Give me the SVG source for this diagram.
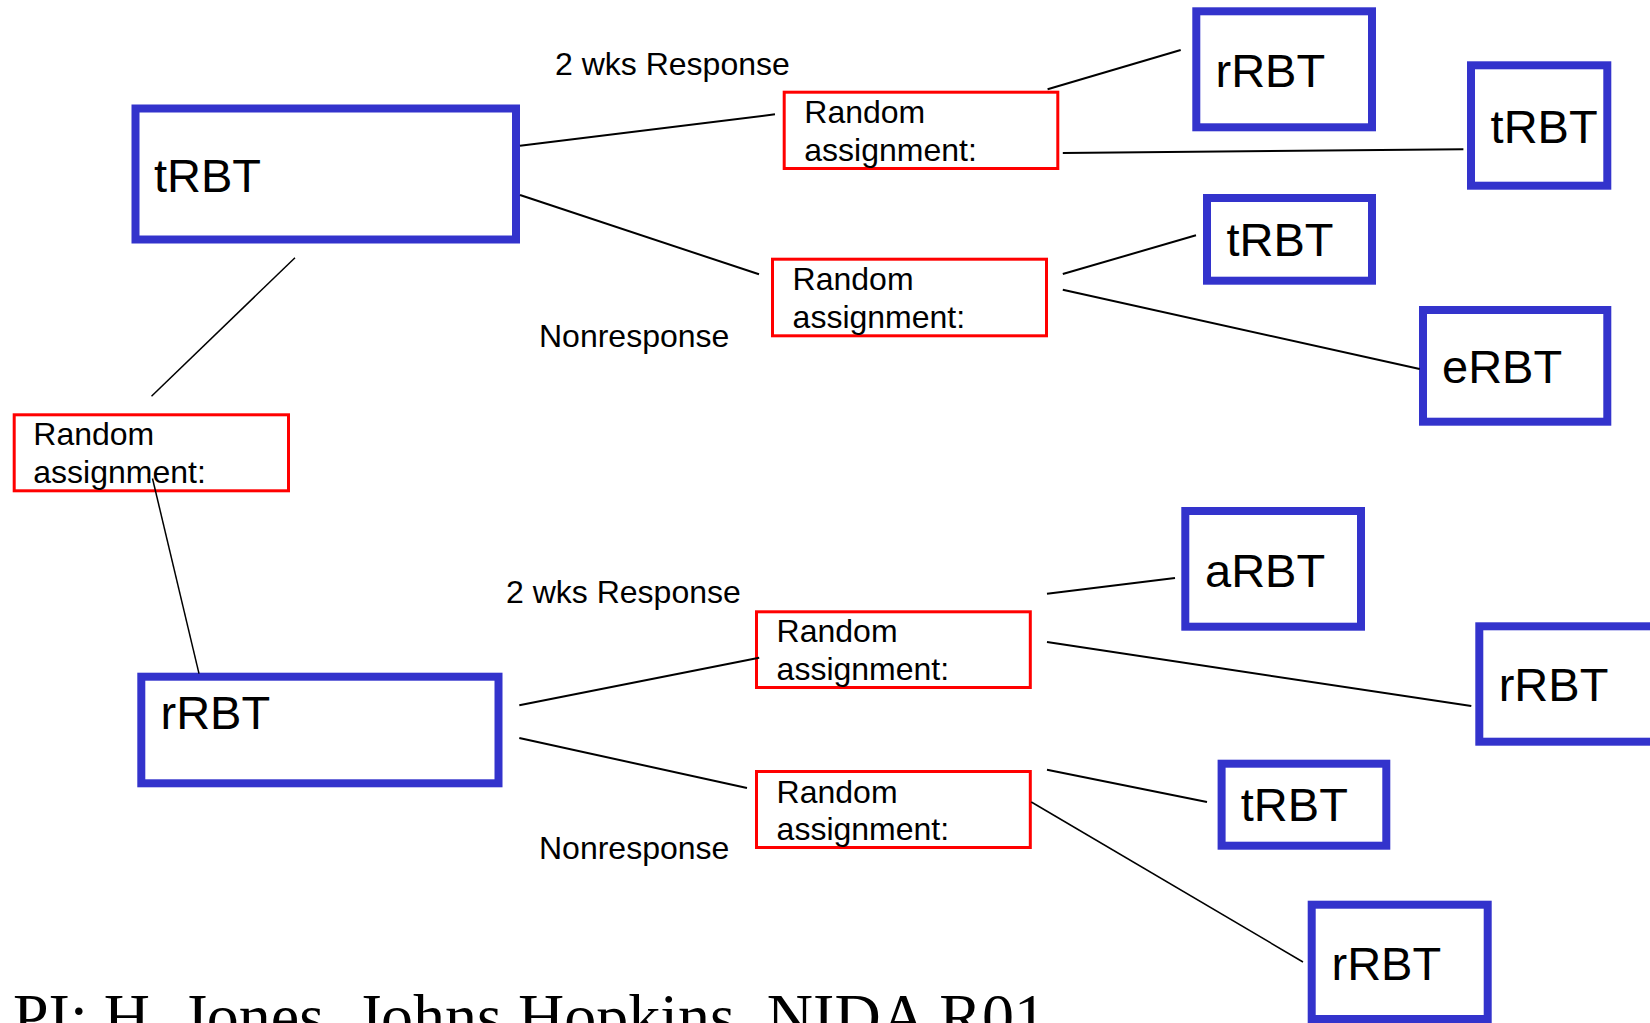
<svg xmlns="http://www.w3.org/2000/svg" width="1650" height="1023" viewBox="0 0 1650 1023">
  <style>
    .arm { fill: #ffffff; stroke: #3333cc; stroke-width: 8; }
    .arm-label { font-family: "Liberation Sans", Arial, sans-serif; font-size: 47px; fill: #000000; }
    .rand { fill: #ffffff; stroke: #ff0000; stroke-width: 3; }
    .rand-label { font-family: "Liberation Sans", Arial, sans-serif; font-size: 32px; fill: #000000; }
    .edge { stroke: #000000; stroke-width: 2; fill: none; }
    .edge-thin { stroke: #000000; stroke-width: 1.5; fill: none; }
    .note { font-family: "Liberation Sans", Arial, sans-serif; font-size: 32px; fill: #000000; }
    .credit { font-family: "Liberation Serif", "Times New Roman", serif; font-size: 64px; fill: #000000; }
  </style>
  <rect width="1650" height="1023" fill="#ffffff"/>

  <!-- first-stage treatment arms -->
  <g id="arm-trbt-main">
    <rect class="arm" x="135.5" y="108.5" width="380.5" height="131"/>
    <text class="arm-label" x="154" y="192">tRBT</text>
  </g>
  <g id="arm-rrbt-main">
    <rect class="arm" x="141.3" y="676.7" width="357.2" height="106.6"/>
    <text class="arm-label" x="160.5" y="729">rRBT</text>
  </g>

  <!-- randomisation points -->
  <g id="rand-initial">
    <rect class="rand" x="14.2" y="414.8" width="274.3" height="76"/>
    <text class="rand-label" x="33.3" y="445">Random</text>
    <text class="rand-label" x="33.3" y="482.7">assignment:</text>
  </g>
  <g id="rand-trbt-response">
    <rect class="rand" x="784.2" y="92.2" width="273.6" height="76.3"/>
    <text class="rand-label" x="804.3" y="123.3">Random</text>
    <text class="rand-label" x="804.3" y="160.7">assignment:</text>
  </g>
  <g id="rand-trbt-nonresponse">
    <rect class="rand" x="772.5" y="259.2" width="274" height="76.6"/>
    <text class="rand-label" x="792.6" y="290.3">Random</text>
    <text class="rand-label" x="792.6" y="327.7">assignment:</text>
  </g>
  <g id="rand-rrbt-response">
    <rect class="rand" x="756.5" y="611.8" width="273.8" height="75.7"/>
    <text class="rand-label" x="776.6" y="642">Random</text>
    <text class="rand-label" x="776.6" y="679.5">assignment:</text>
  </g>
  <g id="rand-rrbt-nonresponse">
    <rect class="rand" x="756.5" y="771.5" width="273.8" height="76"/>
    <text class="rand-label" x="776.6" y="802.6">Random</text>
    <text class="rand-label" x="776.6" y="840">assignment:</text>
  </g>

  <!-- second-stage treatment arms -->
  <g id="arm-rrbt-1">
    <rect class="arm" x="1196.3" y="11.3" width="175.7" height="116"/>
    <text class="arm-label" x="1215.5" y="86.7">rRBT</text>
  </g>
  <g id="arm-trbt-1">
    <rect class="arm" x="1471" y="65.3" width="136.3" height="120.4"/>
    <text class="arm-label" x="1490.6" y="142.7">tRBT</text>
  </g>
  <g id="arm-trbt-2">
    <rect class="arm" x="1207" y="198" width="165" height="82.7"/>
    <text class="arm-label" x="1226.5" y="256">tRBT</text>
  </g>
  <g id="arm-erbt">
    <rect class="arm" x="1423" y="310" width="184.3" height="111.7"/>
    <text class="arm-label" x="1442" y="383.3">eRBT</text>
  </g>
  <g id="arm-arbt">
    <rect class="arm" x="1185.3" y="511" width="175.7" height="115.7"/>
    <text class="arm-label" x="1205" y="587">aRBT</text>
  </g>
  <g id="arm-rrbt-2">
    <rect class="arm" x="1479.3" y="626.3" width="250" height="115.4"/>
    <text class="arm-label" x="1498.7" y="701.3">rRBT</text>
  </g>
  <g id="arm-trbt-3">
    <rect class="arm" x="1221.6" y="763.7" width="164.7" height="82"/>
    <text class="arm-label" x="1240.8" y="821.3">tRBT</text>
  </g>
  <g id="arm-rrbt-3">
    <rect class="arm" x="1311.7" y="904.7" width="176" height="114.3"/>
    <text class="arm-label" x="1331.5" y="979.5">rRBT</text>
  </g>

  <!-- connectors, drawn over the boxes -->
  <g id="connectors">
    <line class="edge" x1="520" y1="145.7" x2="775" y2="114.3"/>
    <line class="edge" x1="520" y1="195" x2="759" y2="274.3"/>
    <line class="edge-thin" x1="295" y1="257.7" x2="151.5" y2="396.3"/>
    <line class="edge-thin" x1="152.5" y1="478.5" x2="199" y2="673.7"/>
    <line class="edge" x1="1047.6" y1="89.3" x2="1180.7" y2="50"/>
    <line class="edge" x1="1062.8" y1="153" x2="1463.4" y2="149.3"/>
    <line class="edge" x1="1062.8" y1="274" x2="1196" y2="235.3"/>
    <line class="edge" x1="1062.8" y1="289.7" x2="1419.7" y2="369"/>
    <line class="edge" x1="519.3" y1="705.3" x2="759.2" y2="657.7"/>
    <line class="edge" x1="519.3" y1="738" x2="747" y2="788"/>
    <line class="edge" x1="1047" y1="593.7" x2="1175" y2="578"/>
    <line class="edge" x1="1047" y1="642" x2="1471.3" y2="706"/>
    <line class="edge" x1="1047" y1="769.7" x2="1207" y2="802"/>
    <line class="edge-thin" x1="1031.3" y1="802" x2="1303" y2="962"/>
  </g>

  <!-- branch notes -->
  <g id="notes">
    <text class="note" x="555" y="75">2 wks Response</text>
    <text class="note" x="539" y="346.5">Nonresponse</text>
    <text class="note" x="506" y="602.5">2 wks Response</text>
    <text class="note" x="539" y="858.7">Nonresponse</text>
  </g>

  <text class="credit" x="13" y="1038">PI: H. Jones, Johns Hopkins, NIDA R01</text>
</svg>
